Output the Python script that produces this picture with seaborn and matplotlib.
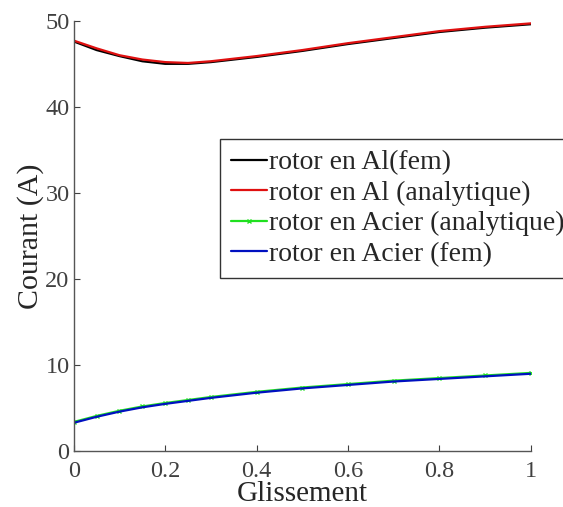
import numpy as np
import pandas as pd
import seaborn as sns
import matplotlib
matplotlib.use("Agg")
import matplotlib.pyplot as plt

glissement = [0.0, 0.05, 0.1, 0.15, 0.2, 0.25, 0.3, 0.4, 0.5, 0.6, 0.7, 0.8, 0.9, 1.0]
al_fem = [47.6, 46.6, 45.9, 45.3, 45.0, 45.0, 45.2, 45.8, 46.5, 47.3, 48.0, 48.7, 49.2, 49.6]
al_ana = [47.7, 46.8, 46.0, 45.5, 45.2, 45.1, 45.3, 45.9, 46.6, 47.4, 48.1, 48.8, 49.3, 49.7]
acier_ana = [3.4, 4.1, 4.7, 5.2, 5.6, 5.95, 6.3, 6.9, 7.4, 7.8, 8.2, 8.5, 8.8, 9.1]
acier_fem = [3.3, 4.0, 4.6, 5.1, 5.5, 5.85, 6.2, 6.8, 7.3, 7.7, 8.1, 8.4, 8.7, 9.0]
labels = ["rotor en Al(fem)", "rotor en Al (analytique)",
          "rotor en Acier (analytique)", "rotor en Acier (fem)"]
colors = ["#000000", "#e01010", "#20e020", "#0010c0"]

sns.set_style("white")
plt.rcParams['font.family'] = ['Liberation Serif', 'DejaVu Serif']

fig = plt.figure(figsize=(5.63, 5.07), dpi=100)
ax = fig.add_axes([0.131, 0.110, 0.812, 0.849])

series = [al_fem, al_ana, acier_ana, acier_fem]
for i, (vals, lab, col) in enumerate(zip(series, labels, colors)):
    df = pd.DataFrame({"x": glissement, "y": vals})
    kw = {}
    if i == 2:
        kw = dict(marker="x", markersize=3, markeredgewidth=1,
                  markeredgecolor=col, markerfacecolor=col)
    sns.lineplot(data=df, x="x", y="y", ax=ax, color=col, linewidth=1.6,
                 label=lab, **kw)

ax.set_xlim(0, 1)
ax.set_ylim(0, 50)
ax.set_xticks([0, 0.2, 0.4, 0.6, 0.8, 1])
ax.set_xticklabels(["0", "0.2", "0.4", "0.6", "0.8", "1"])
ax.set_yticks([0, 10, 20, 30, 40, 50])
ax.set_xlabel("Glissement", fontsize=21, labelpad=-1)
ax.set_ylabel("Courant (A)", fontsize=21.5, labelpad=1)
ax.tick_params(direction="in", length=4, labelsize=17.5, colors="#404040",
               bottom=True, left=True)
ax.tick_params(axis="x", pad=7)
ax.tick_params(axis="y", pad=3)
for s in ["top", "right"]:
    ax.spines[s].set_visible(False)
for s in ["left", "bottom"]:
    ax.spines[s].set_color("#555555")
    ax.spines[s].set_linewidth(1.0)

leg = ax.legend(loc="upper left", bbox_to_anchor=(220 / 563, 1 - 139 / 507),
                bbox_transform=fig.transFigure, fontsize=20, frameon=True,
                fancybox=False, edgecolor="#333333", framealpha=1,
                handlelength=1.3, handletextpad=0.05, borderpad=0.4,
                labelspacing=0.18, borderaxespad=0, numpoints=1)
leg.get_frame().set_linewidth(1.0)

fig.savefig("out.png", dpi=100)
